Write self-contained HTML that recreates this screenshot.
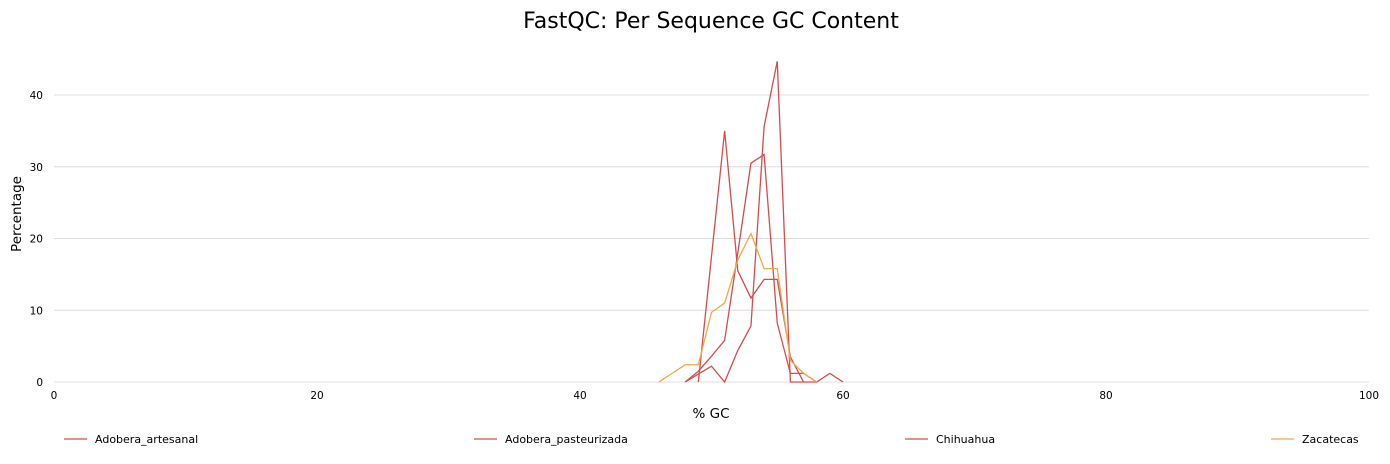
<!DOCTYPE html>
<html><head><meta charset="utf-8"><style>
body{margin:0;background:#fff;font-family:"DejaVu Sans","Liberation Sans",sans-serif}
svg text{font-family:"DejaVu Sans","Liberation Sans",sans-serif}
</style></head><body>
<svg id="chart" width="1390" height="460">
<text x="711" y="28" font-size="22" text-anchor="middle">FastQC: Per Sequence GC Content</text>
<text x="21" y="214" font-size="13.5" text-anchor="middle" transform="rotate(-90 21 214)">Percentage</text>
<text x="711" y="418" font-size="13.5" text-anchor="middle">% GC</text>
<g id="grid"></g><g id="series"></g><g id="legend"></g>
</svg>
<script>
const xTicks=[0,20,40,60,80,100];
const yTicks=[0,10,20,30,40];
const seriesNames=["Adobera_artesanal","Adobera_pasteurizada","Chihuahua","Zacatecas"];
const seriesColors=["#d94a4a","#d94a4a","#d94a4a","#f0a848"];
const gcA=[49,50,51,52,53,54,55,56,57];
const valA=[0,17.5,35,15.5,11.7,14.3,14.3,3.5,0];
const gcB=[48,49,50,51,52,53,54,55,56,57,58];
const valB=[0,1.5,3.6,5.8,18,30.5,31.7,8.2,1.2,1.2,0];
const gcC=[48,49,50,51,52,53,54,55,56,57,58,59,60];
const valC=[0,1.1,2.2,0,4.4,7.8,35.6,44.7,0,0,0,1.2,0];
const gcD=[46,47,48,49,50,51,52,53,54,55,56,57,58];
const valD=[0,1.2,2.4,2.4,9.7,11,17,20.7,15.8,15.8,3,1.2,0];
const X=v=>54+v*13.15, Y=v=>382-v*7.175;
const ns="http://www.w3.org/2000/svg";
const grid=document.getElementById('grid');
yTicks.forEach(t=>{
 const l=document.createElementNS(ns,'line');
 l.setAttribute('x1',54);l.setAttribute('x2',1369);l.setAttribute('y1',Y(t));l.setAttribute('y2',Y(t));
 l.setAttribute('stroke','#e0dcdc');l.setAttribute('stroke-width',1);
 
 
 grid.appendChild(l);
 const tx=document.createElementNS(ns,'text');
 tx.setAttribute('x',43);tx.setAttribute('y',Y(t)+4);tx.setAttribute('font-size',10.5);tx.setAttribute('text-anchor','end');
 tx.textContent=t;
 
 
 grid.appendChild(tx);
});
xTicks.forEach(t=>{
 const tx=document.createElementNS(ns,'text');
 tx.setAttribute('x',X(t));tx.setAttribute('y',399);tx.setAttribute('font-size',10.5);tx.setAttribute('text-anchor','middle');
 tx.textContent=t;
 
 
 grid.appendChild(tx);
});
const sg=document.getElementById('series');
[[gcA,valA],[gcB,valB],[gcC,valC],[gcD,valD]].forEach((s,i)=>{
 const p=document.createElementNS(ns,'polyline');
 p.setAttribute('points',s[0].map((g,j)=>X(g)+','+Y(s[1][j])).join(' '));
 p.setAttribute('fill','none');p.setAttribute('stroke',seriesColors[i]);p.setAttribute('stroke-width',1.3);
 
 
 sg.appendChild(p);
});
const lg=document.getElementById('legend');
const lx=[64,474,905,1271];
seriesNames.forEach((n,i)=>{
 const l=document.createElementNS(ns,'line');
 l.setAttribute('x1',lx[i]);l.setAttribute('x2',lx[i]+23);l.setAttribute('y1',439);l.setAttribute('y2',439);
 l.setAttribute('stroke',seriesColors[i]);l.setAttribute('stroke-width',1.3);
 
 
 lg.appendChild(l);
 const t=document.createElementNS(ns,'text');
 t.setAttribute('x',lx[i]+31);t.setAttribute('y',443);t.setAttribute('font-size',11);
 t.textContent=n;
 
 
 lg.appendChild(t);
});
</script>
</body></html>
